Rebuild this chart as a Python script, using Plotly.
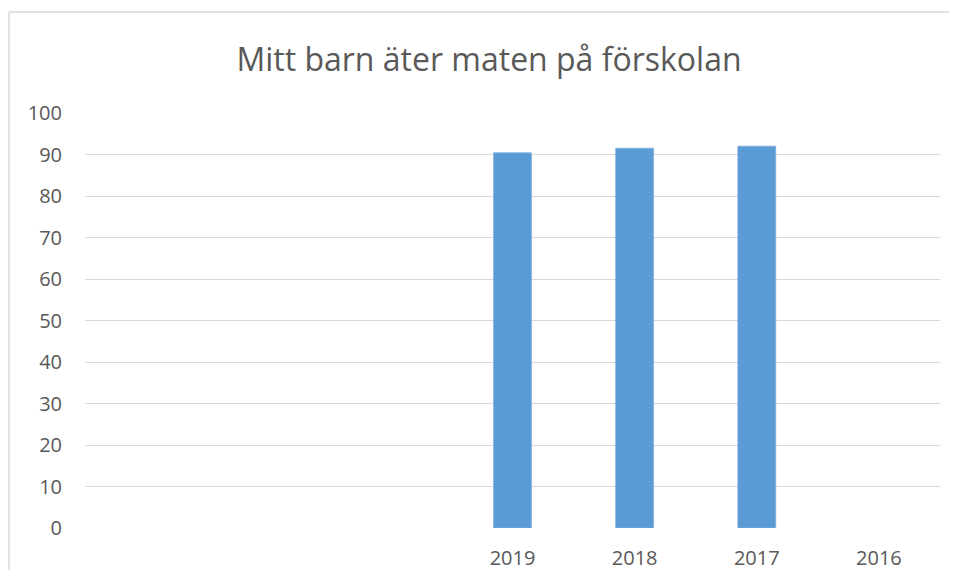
import plotly.graph_objects as go

categories = ["", "", "", "2019", "2018", "2017", "2016"]
values = [None, None, None, 90.4, 91.5, 92.0, None]
y_ticks = [0, 10, 20, 30, 40, 50, 60, 70, 80, 90, 100]
title_text = "Mitt barn äter maten på förskolan"

positions = list(range(len(categories)))

# page has an 8px body margin; figure coords = page coords - 8
fig = go.Figure()
fig.add_trace(go.Bar(
    x=positions, y=values,
    marker=dict(color="#5B9BD5", line=dict(color="#7EAEDD", width=0.8)),
    width=0.31, hoverinfo="y"
))

border_x = (1 - 77) / 855
border_y = (520 - 4) / 415
border_line = dict(color="#D9D9D9", width=1.5)

fig.update_layout(
    width=941, height=562,
    margin=dict(l=77, r=9, t=105, b=42),
    paper_bgcolor="white", plot_bgcolor="white",
    showlegend=False,
    font=dict(family="Open Sans, Liberation Sans, sans-serif", color="#595959", size=20),
    title=dict(text=title_text, x=481/941, xref="container", xanchor="center",
               y=1-52/562, yref="container", yanchor="middle",
               font=dict(size=32, color="#595959")),
    xaxis=dict(range=[-0.5, 6.5], tickmode="array", tickvals=positions, ticktext=categories,
               showgrid=False, zeroline=False, showline=False, ticks="", automargin=False,
               ticklabelstandoff=16, tickfont=dict(size=20, color="#595959")),
    yaxis=dict(range=[0, 100], tickvals=y_ticks, showgrid=True, gridcolor="#D9D9D9", gridwidth=1,
               zeroline=False, showline=False, ticks="", ticklabelstandoff=22, automargin=False,
               tickfont=dict(size=20, color="#595959")),
    shapes=[
        dict(type="line", xref="paper", yref="paper", x0=border_x, x1=1.2,
             y0=border_y, y1=border_y, line=border_line, layer="below"),
        dict(type="line", xref="paper", yref="paper", x0=border_x, x1=border_x,
             y0=-0.3, y1=border_y, line=border_line, layer="below"),
    ]
)

fig.write_html("out.html")
